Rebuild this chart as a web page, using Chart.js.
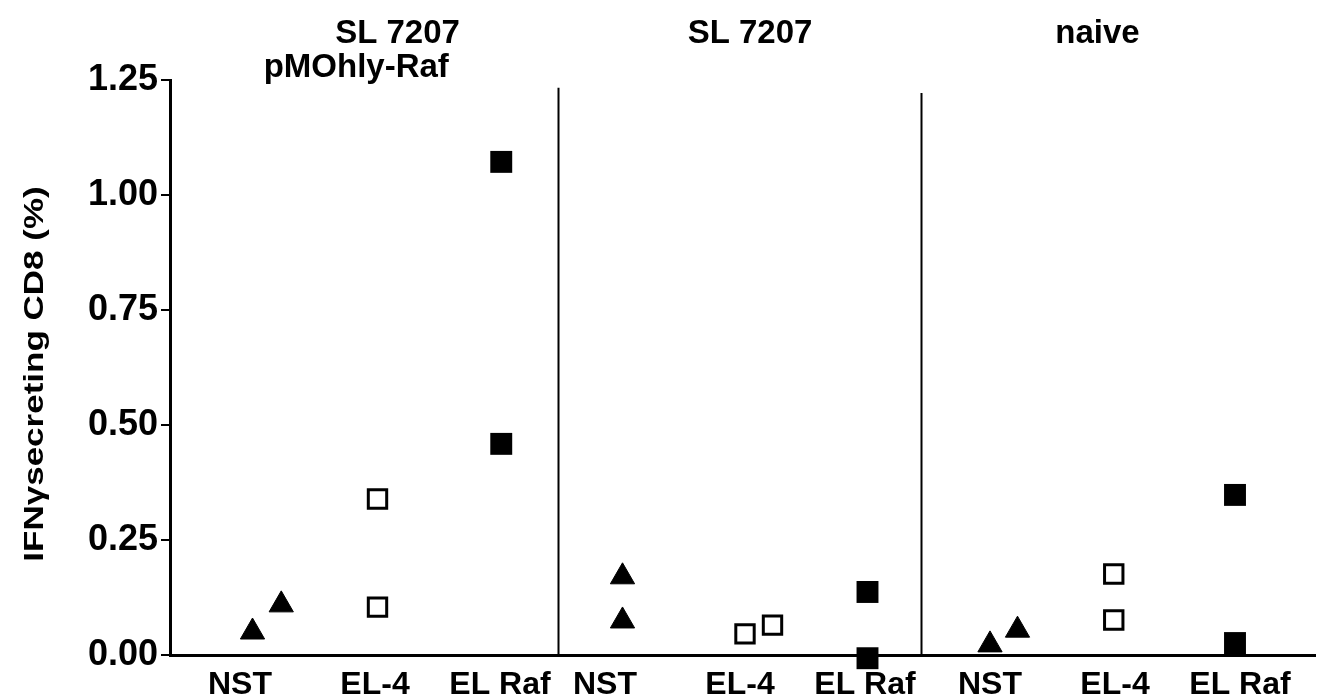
<!DOCTYPE html>
<html>
<head>
<meta charset="utf-8">
<script src="https://cdn.jsdelivr.net/npm/chart.js@4/dist/chart.umd.min.js"></script>
<style>
  body { margin: 0; background: #fff; }
  #chart { display: block; }
</style>
</head>
<body>
<canvas id="chart" width="1320" height="700"></canvas>
<script>
const categories = ["NST", "EL-4", "EL Raf", "NST", "EL-4", "EL Raf", "NST", "EL-4", "EL Raf"];
const labelPos = [0, 1.08, 2.08, 2.92, 4, 5, 6, 7, 8];
const yTicks = [0, 0.25, 0.5, 0.75, 1.0, 1.25];

// x = group position + small jitter, y = % IFN-gamma secreting CD8
const nstX = [0.1, 0.33, 3.06, 3.06, 6.0, 6.22];
const nstY = [0.05, 0.109, 0.17, 0.074, 0.022, 0.054];
const el4X = [1.1, 1.1, 4.04, 4.26, 6.99, 6.99];
const el4Y = [0.339, 0.104, 0.046, 0.065, 0.176, 0.076];
const elRafX = [2.09, 2.09, 5.02, 5.02, 7.96, 7.96];
const elRafY = [1.072, 0.459, 0.137, -0.007, 0.348, 0.026];

const groupTitles = [
  { text: "SL 7207", x: 1.26, line: 0 },
  { text: "pMOhly-Raf", x: 0.93, line: 1 },
  { text: "SL 7207", x: 4.08, line: 0 },
  { text: "naive", x: 6.86, line: 0 },
];
const dividers = [{ x: 2.544, top: 1.233 }, { x: 5.448, top: 1.222 }];

const pts = (xs, ys) => xs.map((x, i) => ({ x, y: ys[i] }));

const decor = {
  id: "decor",
  beforeDatasetsDraw(chart) {
    const { ctx, scales: { x, y } } = chart;
    ctx.save();
    ctx.strokeStyle = "#000";
    ctx.lineWidth = 2;
    dividers.forEach((d) => {
      const px = Math.round(x.getPixelForValue(d.x)) + 0.5;
      ctx.beginPath();
      ctx.moveTo(px, y.getPixelForValue(d.top));
      ctx.lineTo(px, y.getPixelForValue(0));
      ctx.stroke();
    });
    ctx.restore();
  },
  afterDraw(chart) {
    const { ctx, scales: { x } } = chart;
    ctx.save();
    ctx.fillStyle = "#000";
    ctx.textAlign = "center";
    ctx.textBaseline = "middle";
    ctx.font = "bold 33px 'Liberation Sans', Arial, sans-serif";
    groupTitles.forEach((t) => {
      ctx.fillText(t.text, x.getPixelForValue(t.x), 34 + t.line * 34);
    });
    // y axis title, narrow like the original
    ctx.translate(35, 374);
    ctx.rotate(-Math.PI / 2);
    ctx.scale(1, 0.8);
    ctx.font = "bold 35px 'Liberation Sans', Arial, sans-serif";
    ctx.fillText("IFNγsecreting CD8 (%)", 0, 0);
    ctx.restore();
  },
};

new Chart(document.getElementById("chart"), {
  type: "scatter",
  data: {
    datasets: [
      {
        label: "NST",
        data: pts(nstX, nstY),
        pointStyle: "triangle",
        radius: 14,
        backgroundColor: "#000",
        borderColor: "#000",
        borderWidth: 1,
        clip: false,
      },
      {
        label: "EL-4",
        data: pts(el4X, el4Y),
        pointStyle: "rect",
        radius: 13,
        backgroundColor: "#fff",
        borderColor: "#000",
        borderWidth: 3,
        clip: false,
      },
      {
        label: "EL Raf",
        data: pts(elRafX, elRafY),
        pointStyle: "rect",
        radius: 15.5,
        backgroundColor: "#000",
        borderColor: "#000",
        borderWidth: 0,
        clip: false,
      },
    ],
  },
  options: {
    responsive: false,
    animation: false,
    events: [],
    layout: { autoPadding: false, padding: { top: 80, right: 5, left: 0, bottom: 0 } },
    plugins: { legend: { display: false }, tooltip: { enabled: false } },
    scales: {
      x: {
        type: "linear",
        min: -0.56,
        max: 8.6,
        afterBuildTicks: (s) => { s.ticks = labelPos.map((v) => ({ value: v })); },
        afterFit: (s) => { s.height = 45; s.paddingLeft = 0; s.paddingRight = 0; },
        grid: { display: false },
        border: { display: true, color: "#000", width: 3 },
        ticks: {
          autoSkip: false,
          maxRotation: 0,
          padding: 3,
          color: "#000",
          font: { family: "'Liberation Sans', Arial, sans-serif", size: 32, weight: "bold" },
          callback: (v, i) => categories[i],
        },
      },
      y: {
        min: 0,
        max: 1.25,
        afterBuildTicks: (s) => { s.ticks = yTicks.map((v) => ({ value: v })); },
        afterFit: (s) => { s.width = 170; },
        grid: { display: true, drawOnChartArea: false, drawTicks: true, tickLength: 9, color: "#000", lineWidth: 2 },
        border: { display: true, color: "#000", width: 3 },
        ticks: {
          padding: 3,
          color: "#000",
          font: { family: "'Liberation Sans', Arial, sans-serif", size: 36, weight: "bold" },
          callback: (v) => v.toFixed(2),
        },
      },
    },
  },
  plugins: [decor],
});
</script>
</body>
</html>
